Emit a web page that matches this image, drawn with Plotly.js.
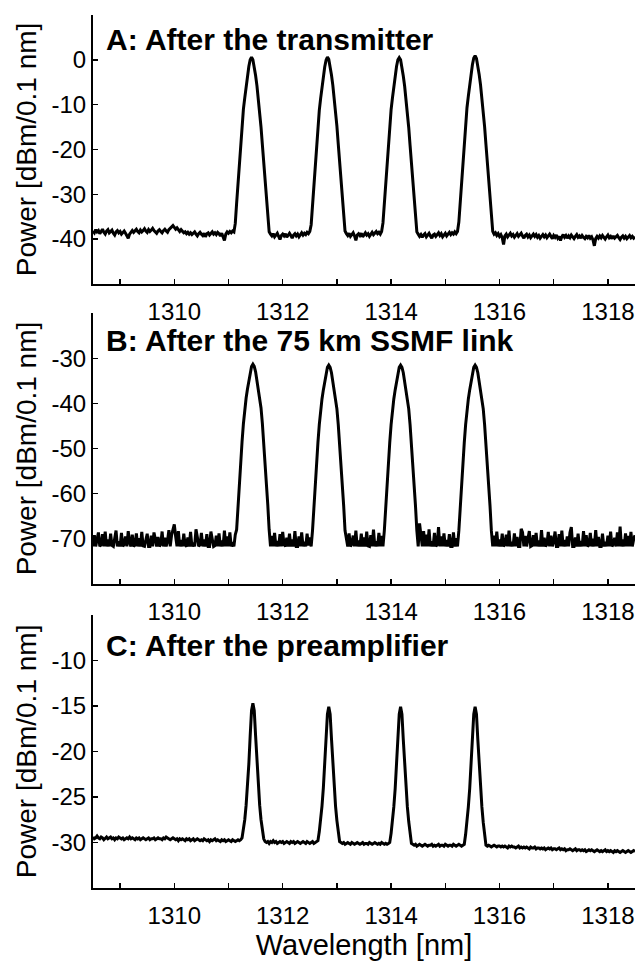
<!DOCTYPE html>
<html>
<head>
<meta charset="utf-8">
<script src="https://cdn.plot.ly/plotly-3.0.1.min.js"></script>
<style>
  html, body { margin: 0; padding: 0; background: #fff; }
  #chart { width: 639px; height: 965px; }
</style>
</head>
<body>
<div id="chart"></div>
<script>
// ---- Data (OSA sample grid 1308.5 nm, step 0.025 nm) ----
const wavelengthStart = 1308.5;
const wavelengthStep = 0.025;

const panelTitles = ['A: After the transmitter', 'B: After the 75 km SSMF link', 'C: After the preamplifier'];
const xTickVals = [1309, 1310, 1311, 1312, 1313, 1314, 1315, 1316, 1317, 1318];
const xTickText = ['', '1310', '', '1312', '', '1314', '', '1316', '', '1318'];
const yTickValsA = [-40, -30, -20, -10, 0, 10];
const yTickTextA = ['-40', '-30', '-20', '-10', '0', ''];
const yTickValsB = [-70, -60, -50, -40, -30, -20];
const yTickTextB = ['-70', '-60', '-50', '-40', '-30', ''];
const yTickValsC = [-30, -25, -20, -15, -10, -5];
const yTickTextC = ['-30', '-25', '-20', '-15', '-10', ''];

// Panel A: after the transmitter [dBm/0.1 nm]
const aFloor0 = [-38.2,-38.6,-37.9,-38.4,-38.1,-38.8,-38.3,-37.8,-38.5,-38.9,
-38.2,-37.9,-38.6,-38.3,-38.0,-38.7,-39.1,-38.4,-38.1,-38.6,
-38.3,-38.9,-38.5,-38.2,-38.7,-39.2,-39.8,-38.9,-38.4,-38.1,
-38.5,-38.2,-37.8,-38.3,-38.6,-38.0,-38.4,-38.1,-37.7,-38.2,
-38.5,-37.9,-38.3,-38.0,-37.6,-38.1,-38.4,-38.7,-38.2,-37.9,
-38.3,-38.6,-38.1,-37.8,-38.2,-38.5,-37.9,-37.6,-37.3,-37.0,
-37.4,-37.8,-37.5,-38.0,-38.3,-37.9,-38.2,-38.6,-38.4,-38.8,
-38.5,-38.9,-38.6,-39.0,-38.7,-38.4,-38.9,-39.3,-38.8,-38.5,
-38.9,-39.2,-38.7,-39.5,-38.8,-38.6,-39.1,-38.7,-38.4,-38.9,
-38.6,-39.0,-38.5,-38.8,-39.3,-38.7,-39.6,-40.3,-38.9,-38.4,
-38.7,-38.3,-38.6,-38.2,-38.4];
const aPeak1 = [-36.5,-32,-27.5,-23,-19,-15,-11,-8.5,-5.8,-3.5,-1.5,0.0,0.6,0.0,-1.5,-3.5,-5.8,-8.5,-11,-15,-19,-23,-27.5,-32,-36.5];
const aFloor1 = [-38.4,-38.9,-39.3,-38.8,-39.5,-39.1,-38.7,-39.4,-40.1,-39.2,
-38.9,-39.3,-38.8,-39.6,-39.0,-38.7,-39.2,-39.8,-39.1,-38.8,
-39.3,-38.9,-39.5,-39.0,-38.6,-39.1,-38.7,-39.0,-38.5,-38.8,
-38.3];
const aPeak2 = [-36.8,-32.4,-27.8,-23.2,-19.1,-15.2,-11.3,-8.6,-5.9,-3.6,-1.6,-0.1,0.6,0.1,-1.4,-3.4,-5.7,-8.4,-11,-14.8,-18.8,-22.8,-27.2,-31.8,-36.3];
const aFloor2 = [-38.2,-38.8,-39.2,-38.7,-39.4,-39.0,-38.6,-39.3,-40.3,-39.1,
-38.8,-39.2,-38.7,-39.5,-39.0,-38.6,-39.1,-38.8,-39.4,-38.9,
-38.5,-39.0,-38.7,-38.3,-38.8,-38.5,-38.9,-38.3];
const aPeak3 = [-36.4,-31.9,-27.4,-22.9,-18.9,-15.0,-11.1,-8.5,-5.8,-3.5,-1.5,0.0,0.5,0.0,-1.6,-3.6,-5.9,-8.6,-11.2,-15.1,-19.1,-23.1,-27.6,-32.1,-36.6];
const aFloor3 = [-38.4,-38.9,-39.4,-39.0,-39.6,-39.1,-38.8,-39.5,-39.2,-38.7,
-39.3,-39.8,-39.1,-38.9,-39.4,-39.0,-38.6,-39.2,-38.8,-39.5,
-39.1,-38.7,-39.3,-38.9,-38.5,-39.0,-38.6,-38.9,-38.4,-38.8,
-38.3];
const aPeak4 = [-36.2,-31.7,-27.1,-22.6,-18.6,-14.6,-10.7,-8.1,-5.4,-3.1,-1.1,0.4,0.9,0.3,-1.3,-3.3,-5.6,-8.3,-10.9,-14.9,-18.9,-23,-27.4,-31.9,-36.4];
const aFloor4 = [-38.3,-38.9,-38.6,-39.2,-38.8,-39.4,-39.0,-39.7,-41.2,-39.3,
-38.9,-39.5,-39.1,-38.7,-39.3,-39.0,-39.6,-39.2,-38.8,-39.4,
-39.1,-38.7,-39.3,-39.8,-39.2,-38.9,-39.5,-39.1,-39.7,-39.3,
-38.9,-39.4,-39.0,-39.6,-39.2,-39.8,-39.3,-39.0,-39.5,-39.1,
-39.7,-39.3,-38.9,-39.4,-39.9,-39.2,-39.6,-39.1,-39.8,-39.4,
-40.3,-39.5,-39.0,-39.6,-39.2,-39.8,-39.3,-39.7,-39.1,-39.5,
-39.9,-39.4,-39.0,-39.6,-39.3,-39.8,-39.2,-39.6,-39.9,-39.4,
-39.7,-39.2,-39.8,-39.5,-40.2,-41.5,-39.9,-39.4,-39.8,-39.3,
-39.7,-39.2,-39.6,-40.0,-39.5,-39.1,-39.7,-39.4,-39.9,-39.3,
-39.8,-39.5,-39.2,-39.7,-40.1,-39.6,-39.3,-39.8,-39.4,-39.9,
-39.5,-39.2,-39.7,-39.4,-39.8,-39.5];

// Panel B: after the 75 km SSMF link
const bFloor0 = [-71.7,-69.2,-71.7,-70.4,-68.6,-71.7,-71.3,-69.0,-71.7,-68.4,
-71.7,-70.2,-71.7,-68.9,-71.5,-71.7,-69.4,-68.2,-71.7,-70.6,
-71.7,-68.7,-71.7,-71.2,-69.5,-71.7,-68.3,-70.8,-71.7,-69.1,
-71.7,-71.4,-68.8,-71.7,-69.9,-71.7,-68.5,-71.6,-71.7,-70.1,
-68.9,-71.7,-71.7,-69.3,-71.7,-68.6,-70.7,-71.7,-69.6,-71.7,
-71.2,-68.4,-71.7,-69.8,-71.7,-70.5,-68.1,-71.7,-69.2,-67.6,
-66.8,-69.5,-71.7,-68.3,-71.7,-70.3,-71.7,-68.9,-71.4,-71.7,
-69.7,-71.7,-68.5,-71.7,-70.9,-71.7,-67.9,-69.6,-71.7,-71.3,
-68.7,-71.7,-70.2,-71.7,-69.0,-71.7,-71.7,-68.4,-70.6,-71.7,
-71.5,-69.3,-71.7,-68.8,-71.7,-70.4,-71.7,-68.2,-71.7,-69.5,
-71.7,-68.6,-71.7,-70.8,-71.7,-69.1];
const bPeak1 = [-68,-62.5,-57.5,-53,-48.5,-44.5,-41,-38.8,-36.8,-34.8,-33,-31.8,-31.3,-31.8,-33,-34.8,-36.8,-38.8,-41,-44.5,-48.5,-53,-57.5,-62.5,-68];
const bFloor1 = [-71.7,-69.4,-71.7,-68.7,-71.7,-70.5,-71.7,-69.0,-71.7,-68.5,
-71.3,-71.7,-69.8,-71.7,-68.9,-71.7,-70.2,-71.7,-68.3,-71.7,
-71.7,-69.5,-71.7,-68.6,-71.7,-70.7,-71.7,-68.9,-71.5,-69.7,
-71.7];
const bPeak2 = [-68.2,-62.7,-57.7,-53.2,-48.7,-44.7,-41.2,-39.0,-37.0,-35.0,-33.2,-32.0,-31.5,-32.0,-33.2,-35.0,-37.0,-39.0,-41.2,-44.7,-48.7,-53.2,-57.7,-62.7,-68.2];
const bFloor2 = [-69.6,-71.7,-68.8,-71.7,-71.2,-69.3,-71.7,-68.2,-71.7,-70.4,
-71.7,-68.9,-71.7,-69.7,-71.7,-68.4,-71.6,-71.7,-69.2,-71.7,
-68.0,-71.7,-70.6,-71.7,-68.7,-71.7,-69.4,-71.7];
const bPeak3 = [-68.2,-62.7,-57.7,-53.2,-48.7,-44.7,-41.2,-39.0,-37.0,-35.0,-33.2,-32.0,-31.5,-32.0,-33.2,-35.0,-37.0,-39.0,-41.2,-44.7,-48.7,-53.2,-57.7,-62.7,-68.2];
const bFloor3 = [-71.7,-66.6,-69.8,-71.7,-68.3,-71.7,-69.1,-71.7,-67.9,-71.7,
-70.6,-71.7,-68.7,-71.7,-71.3,-67.4,-71.7,-69.5,-71.7,-68.8,
-71.7,-70.3,-71.7,-69.0,-71.7,-71.7,-68.6,-71.7,-69.9,-71.7];
const bPeak4 = [-68.2,-62.7,-57.7,-53.2,-48.7,-44.7,-41.2,-39.0,-37.0,-35.0,-33.2,-32.0,-31.5,-32.0,-33.2,-35.0,-37.0,-39.0,-41.2,-44.7,-48.7,-53.2,-57.7,-62.7,-68.2];
const bFloor4 = [-71.7,-69.3,-71.7,-68.4,-71.7,-70.2,-71.7,-68.9,-71.7,-71.3,
-69.1,-71.7,-68.2,-71.7,-70.7,-71.7,-68.8,-71.7,-69.6,-71.7,
-71.7,-67.8,-68.6,-71.7,-69.4,-71.7,-70.1,-68.3,-71.7,-71.5,
-69.2,-71.7,-68.7,-71.7,-70.4,-71.7,-68.1,-71.7,-69.8,-71.7,
-71.2,-68.5,-71.7,-69.3,-71.7,-70.6,-68.4,-71.7,-71.7,-69.0,
-71.7,-68.2,-71.7,-70.3,-71.7,-69.5,-71.7,-68.6,-67.4,-71.7,
-71.7,-69.7,-71.7,-68.9,-71.7,-70.5,-71.7,-68.3,-71.7,-69.2,
-71.7,-71.4,-68.7,-71.7,-70.0,-71.7,-68.1,-71.7,-69.6,-71.7,
-71.7,-68.9,-71.7,-70.7,-71.7,-69.3,-71.7,-68.4,-71.7,-71.2,
-69.8,-71.7,-68.6,-71.7,-67.3,-71.7,-70.2,-71.7,-68.8,-71.7,
-69.4,-71.7,-68.5,-71.7,-70.1,-69.2];

// Panel C: after the preamplifier
const cFloor0 = [-29.4,-29.6,-29.5,-29.3,-29.5,-29.6,-29.4,-29.5,-29.7,-29.5,
-29.4,-29.6,-29.5,-29.4,-29.6,-29.5,-29.7,-29.5,-29.6,-29.4,
-29.5,-29.6,-29.5,-29.7,-29.6,-29.5,-29.6,-29.4,-29.6,-29.5,
-29.6,-29.7,-29.5,-29.6,-29.5,-29.7,-29.6,-29.5,-29.6,-29.7,
-29.6,-29.5,-29.7,-29.6,-29.6,-29.5,-29.7,-29.6,-29.5,-29.6,
-29.6,-29.7,-29.5,-29.6,-29.4,-29.5,-29.6,-29.7,-29.6,-29.5,
-29.6,-29.7,-29.6,-29.8,-29.6,-29.7,-29.6,-29.7,-29.8,-29.6,
-29.7,-29.6,-29.8,-29.7,-29.6,-29.8,-29.7,-29.6,-29.7,-29.8,
-29.7,-29.8,-29.6,-29.7,-29.8,-29.7,-29.9,-29.7,-29.8,-29.7,
-29.6,-29.8,-29.7,-29.8,-29.9,-29.7,-29.8,-29.7,-29.9,-29.8,
-29.7,-29.8,-29.9,-29.7,-29.8,-29.9,-29.8,-29.7,-29.8,-29.7];
const cPeak1 = [-29.5,-28.7,-27.5,-25.9,-23.9,-21.4,-18.3,-15.5,-14.7,-15.5,-18.3,-21.4,-23.9,-25.9,-27.5,-28.7,-29.6];
const cFloor1 = [-29.9,-30.0,-29.9,-30.1,-29.9,-30.0,-29.8,-30.0,-29.9,-30.1,
-30.0,-29.9,-30.0,-29.9,-30.1,-30.0,-29.9,-30.0,-30.1,-29.9,
-30.0,-29.9,-30.1,-30.0,-29.9,-30.0,-30.1,-30.0,-29.9,-30.0,
-30.1,-29.9,-30.0,-30.1,-30.0,-29.9,-30.1,-30.0,-29.9];
const cPeak2 = [-29.8,-28.8,-27.6,-26.0,-24.0,-21.5,-18.6,-15.9,-15.1,-15.9,-18.6,-21.5,-24.0,-26.0,-27.6,-28.8,-29.9];
const cFloor2 = [-30.0,-30.1,-30.0,-30.2,-30.1,-30.0,-30.1,-30.2,-30.0,-30.1,
-30.2,-30.1,-30.0,-30.1,-30.2,-30.1,-30.0,-30.2,-30.1,-30.1,
-30.2,-30.0,-30.1,-30.2,-30.1,-30.0,-30.1,-30.2,-30.1,-30.2,
-30.0,-30.1,-30.2,-30.1,-30.2,-30.1];
const cPeak3 = [-30.0,-29.0,-27.7,-26.1,-24.1,-21.6,-18.7,-15.9,-15.1,-15.9,-18.7,-21.6,-24.1,-26.1,-27.7,-29.0,-30.1];
const cFloor3 = [-30.2,-30.3,-30.2,-30.4,-30.3,-30.2,-30.3,-30.4,-30.3,-30.2,
-30.3,-30.4,-30.3,-30.3,-30.2,-30.4,-30.3,-30.4,-30.3,-30.2,
-30.4,-30.3,-30.3,-30.4,-30.2,-30.3,-30.4,-30.3,-30.3,-30.4,
-30.2,-30.3,-30.4,-30.3,-30.2,-30.3,-30.4,-30.3];
const cPeak4 = [-30.2,-29.1,-27.8,-26.1,-24.1,-21.6,-18.7,-15.9,-15.1,-15.9,-18.7,-21.6,-24.1,-26.1,-27.8,-29.2,-30.3];
const cFloor4 = [-30.4,-30.3,-30.4,-30.5,-30.4,-30.3,-30.4,-30.5,-30.4,-30.4,
-30.5,-30.4,-30.5,-30.4,-30.5,-30.6,-30.4,-30.5,-30.4,-30.5,
-30.5,-30.6,-30.5,-30.4,-30.6,-30.5,-30.6,-30.5,-30.6,-30.5,
-30.6,-30.7,-30.5,-30.6,-30.6,-30.5,-30.7,-30.6,-30.6,-30.7,
-30.6,-30.7,-30.6,-30.8,-30.7,-30.6,-30.7,-30.6,-30.8,-30.7,
-30.7,-30.8,-30.7,-30.6,-30.8,-30.7,-30.8,-30.7,-30.9,-30.8,
-30.8,-30.7,-30.8,-30.9,-30.8,-30.7,-30.9,-30.8,-30.8,-30.9,
-30.8,-30.9,-30.8,-31.0,-30.9,-30.8,-30.9,-30.8,-30.9,-31.0,
-30.9,-30.8,-30.9,-31.0,-30.9,-31.0,-30.9,-30.8,-31.0,-30.9,
-31.0,-30.9,-31.0,-31.1,-30.9,-31.0,-30.9,-31.0,-31.1,-31.0,
-30.9,-31.0,-31.1,-31.0,-30.9,-31.0,-31.1,-31.0,-30.9,-31.0];

const powerA = [].concat(aFloor0, aPeak1, aFloor1, aPeak2, aFloor2, aPeak3, aFloor3, aPeak4, aFloor4);
const powerB = [].concat(bFloor0, bPeak1, bFloor1, bPeak2, bFloor2, bPeak3, bFloor3, bPeak4, bFloor4);
const powerC = [].concat(cFloor0, cPeak1, cFloor1, cPeak2, cFloor2, cPeak3, cFloor3, cPeak4, cFloor4);

function sampleGrid(n) {
  const w = [];
  for (let i = 0; i < n; i++) w.push(+(wavelengthStart + i * wavelengthStep).toFixed(3));
  return w;
}

// ---- Plot ----
const FONT = 'Arial, "Liberation Sans", Helvetica, sans-serif';
const lineStyle = {color: '#000', width: 3};

const traces = [
  {x: sampleGrid(powerA.length), y: powerA, xaxis: 'x', yaxis: 'y', type: 'scatter', mode: 'lines', line: lineStyle, hoverinfo: 'skip'},
  {x: sampleGrid(powerB.length), y: powerB, xaxis: 'x2', yaxis: 'y2', type: 'scatter', mode: 'lines', line: lineStyle, hoverinfo: 'skip'},
  {x: sampleGrid(powerC.length), y: powerC, xaxis: 'x3', yaxis: 'y3', type: 'scatter', mode: 'lines', line: lineStyle, hoverinfo: 'skip'}
];

function xAxis(anchor, withTitle) {
  const ax = {
    anchor: anchor, domain: [0, 1], range: [1308.5, 1318.5],
    showline: true, linecolor: '#000', linewidth: 2, mirror: false,
    ticks: 'inside', ticklen: 5, tickwidth: 1.5, tickcolor: '#000',
    tickmode: 'array', tickvals: xTickVals, ticktext: xTickText,
    tickfont: {family: FONT, size: 24, color: '#000'},
    ticklabelstandoff: 5,
    showgrid: false, zeroline: false, fixedrange: true
  };
  if (withTitle) ax.title = {text: 'Wavelength [nm]', font: {family: FONT, size: 29, color: '#000'}, standoff: 6};
  return ax;
}
function yAxis(anchor, domain, range, vals, text) {
  return {
    anchor: anchor, domain: domain, range: range,
    showline: true, linecolor: '#000', linewidth: 2, mirror: false,
    ticks: 'inside', ticklen: 5, tickwidth: 1.5, tickcolor: '#000',
    tickmode: 'array', tickvals: vals, ticktext: text,
    tickfont: {family: FONT, size: 24, color: '#000'},
    title: {text: 'Power [dBm/0.1 nm]', font: {family: FONT, size: 28, color: '#000'}, standoff: 7},
    showgrid: false, zeroline: false, fixedrange: true
  };
}

const annFont = {family: FONT, size: 30, color: '#000', weight: 'bold'};
const layout = {
  width: 639, height: 965,
  margin: {l: 93, r: 4, t: 15, b: 77, pad: 0},
  paper_bgcolor: '#fff', plot_bgcolor: '#fff',
  showlegend: false,
  font: {family: FONT, color: '#000'},
  xaxis: xAxis('y', false),
  xaxis2: xAxis('y2', false),
  xaxis3: xAxis('y3', true),
  yaxis: yAxis('x', [0.692, 1], [-50, 10], yTickValsA, yTickTextA),
  yaxis2: yAxis('x2', [0.3484, 0.6584], [-80, -20], yTickValsB, yTickTextB),
  yaxis3: yAxis('x3', [0, 0.3129], [-35, -5], yTickValsC, yTickTextC),
  annotations: [
    {text: panelTitles[0], xref: 'x domain', yref: 'y domain', x: 0.022, y: 0.91, xanchor: 'left', yanchor: 'middle', showarrow: false, borderpad: 0, font: annFont},
    {text: panelTitles[1], xref: 'x2 domain', yref: 'y2 domain', x: 0.022, y: 0.9, xanchor: 'left', yanchor: 'middle', showarrow: false, borderpad: 0, font: annFont},
    {text: panelTitles[2], xref: 'x3 domain', yref: 'y3 domain', x: 0.022, y: 0.887, xanchor: 'left', yanchor: 'middle', showarrow: false, borderpad: 0, font: annFont}
  ]
};

Plotly.newPlot('chart', traces, layout, {staticPlot: true, displayModeBar: false});
</script>
</body>
</html>
